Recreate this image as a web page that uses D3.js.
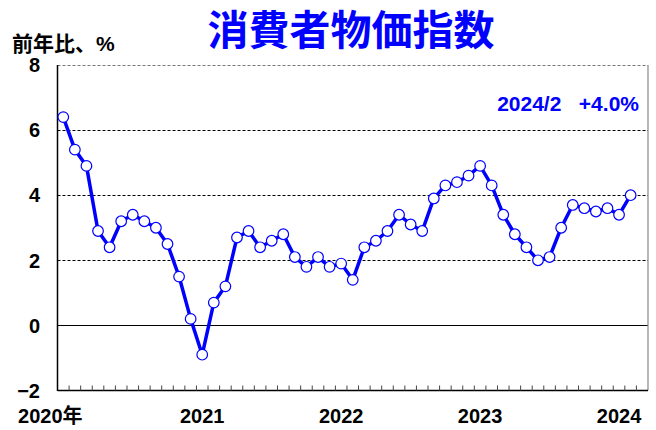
<!DOCTYPE html>
<html>
<head>
<meta charset="utf-8">
<script src="https://cdn.jsdelivr.net/npm/d3@7"></script>
<style>
  body { margin: 0; background: #fff; }
  svg text { font-family: "Liberation Sans", "Noto Sans CJK JP", sans-serif; font-weight: bold; }
</style>
</head>
<body>
<svg id="chart" width="656" height="430"></svg>
<script>
// 消費者物価指数 前年比 (2020/1 - 2024/2)
var startYear = 2020, startMonth = 1;
var cpiValues = [6.4, 5.4, 4.9, 2.9, 2.4, 3.2, 3.4, 3.2, 3.0, 2.5, 1.5, 0.2,
                 -0.9, 0.7, 1.2, 2.7, 2.9, 2.4, 2.6, 2.8, 2.1, 1.8, 2.1, 1.8,
                 1.9, 1.4, 2.4, 2.6, 2.9, 3.4, 3.1, 2.9, 3.9, 4.3, 4.4, 4.6,
                 4.9, 4.3, 3.4, 2.8, 2.4, 2.0, 2.1, 3.0, 3.7, 3.6, 3.5, 3.6,
                 3.4, 4.0];
var yTicks = [-2, 0, 2, 4, 6, 8];
var yearLabels = ["2020年", "2021", "2022", "2023", "2024"];
var titleText = "消費者物価指数";
var unitText = "前年比、%";
var noteText = "2024/2\u00a0\u00a0\u00a0+4.0%";

var nMonths = cpiValues.length + 1; // one empty month at the right end
var months = d3.range(nMonths);

var svg = d3.select("#chart");
var plotLeft = 57.5, plotRight = 648, plotTop = 65, plotBottom = 390.5;

var x = d3.scaleBand().domain(months).range([plotLeft, plotRight]);
var y = d3.scaleLinear().domain([-2, 8]).range([plotBottom, plotTop]);

// grid lines
svg.append("g").selectAll("line")
    .data(yTicks.filter(function(d) { return d > -2; }))
    .enter().append("line")
    .attr("x1", plotLeft).attr("x2", plotRight)
    .attr("y1", function(d) { return Math.round(y(d)) + 0.5; })
    .attr("y2", function(d) { return Math.round(y(d)) + 0.5; })
    .attr("stroke", function(d) { return d === 8 ? "#777" : "#000"; })
    .attr("stroke-width", 1)
    .attr("stroke-dasharray", function(d) { return d === 0 ? null : "3,2"; });

// frame
svg.append("line").attr("x1", plotRight).attr("x2", plotRight).attr("y1", plotTop).attr("y2", plotBottom)
    .attr("stroke", "#888").attr("stroke-width", 1.2);
svg.append("line").attr("x1", plotLeft).attr("x2", plotLeft).attr("y1", plotTop).attr("y2", plotBottom + 0.5)
    .attr("stroke", "#000").attr("stroke-width", 1.5);
svg.append("line").attr("x1", plotLeft).attr("x2", plotRight).attr("y1", plotBottom).attr("y2", plotBottom)
    .attr("stroke", "#000").attr("stroke-width", 1.5);

// month ticks on the bottom axis (inward)
svg.append("g").selectAll("line")
    .data(months.slice(1))
    .enter().append("line")
    .attr("x1", function(d) { return x(d); })
    .attr("x2", function(d) { return x(d); })
    .attr("y1", plotBottom).attr("y2", plotBottom - 5)
    .attr("stroke", "#444").attr("stroke-width", 1);

// y labels
svg.append("g").selectAll("text")
    .data(yTicks)
    .enter().append("text")
    .attr("x", 40)
    .attr("y", function(d) { return y(d); })
    .attr("dy", "0.36em")
    .attr("text-anchor", "end")
    .attr("font-size", 20)
    .text(function(d) { return d < 0 ? "\u2212" + Math.abs(d) : d; });

// year labels (January of each year)
svg.append("g").selectAll("text")
    .data(yearLabels)
    .enter().append("text")
    .attr("x", function(d, i) { return x(i * 12) + x.bandwidth() / 2 + (i === 0 ? -13 : 0); })
    .attr("y", 423)
    .attr("text-anchor", "middle")
    .attr("font-size", 20)
    .text(function(d) { return d; });

// line + markers
var line = d3.line()
    .x(function(d, i) { return x(i) + x.bandwidth() / 2; })
    .y(function(d) { return y(d); });

svg.append("path")
    .datum(cpiValues)
    .attr("d", line)
    .attr("fill", "none")
    .attr("stroke", "#0000ff")
    .attr("stroke-width", 3.5)
    .attr("stroke-linejoin", "round");

svg.append("g").selectAll("circle")
    .data(cpiValues)
    .enter().append("circle")
    .attr("cx", function(d, i) { return x(i) + x.bandwidth() / 2; })
    .attr("cy", function(d) { return y(d); })
    .attr("r", 5.3)
    .attr("fill", "#fff")
    .attr("stroke", "#0000ff")
    .attr("stroke-width", 1.2);

// title and notes
svg.append("text")
    .attr("x", 351).attr("y", 45)
    .attr("text-anchor", "middle")
    .attr("font-size", 41)
    .attr("fill", "#0000ff")
    .text(titleText);

svg.append("text")
    .attr("x", 12).attr("y", 51)
    .attr("font-size", 21)
    .text(unitText);

svg.append("text")
    .attr("x", 639).attr("y", 111)
    .attr("text-anchor", "end")
    .attr("font-size", 21)
    .attr("fill", "#0000ff")
    .text(noteText);
</script>
</body>
</html>
